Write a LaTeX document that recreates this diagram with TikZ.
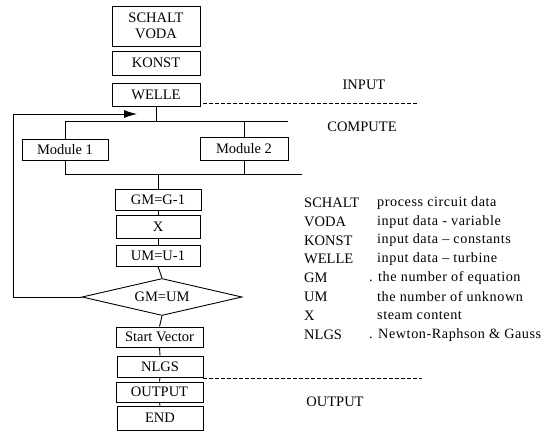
\documentclass[tikz,border=0pt]{standalone}
\usepackage{fontspec}
\setmainfont{Liberation Serif}
\usetikzlibrary{shapes.geometric,arrows.meta}
\begin{document}
\begin{tikzpicture}[x=1pt,y=-1pt,
  every node/.style={font=\fontsize{14.5}{16.5}\selectfont},
  box/.style={draw, line width=0.9pt, minimum width=87pt, minimum height=21pt, inner sep=0pt, align=center},
  dia/.style={draw, line width=0.9pt, diamond, aspect=4.3, minimum width=160pt, minimum height=37pt, inner sep=0pt},
  ln/.style={line width=0.9pt},
  sep/.style={line width=0.8pt, dash pattern=on 4pt off 2pt},
  lkey/.style={anchor=west, inner sep=0pt},
  ldesc/.style={anchor=west, inner sep=0pt, font=\fontsize{14.2}{16}\selectfont\addfontfeatures{LetterSpace=4}},
  lab/.style={inner sep=0pt}
]
\useasboundingbox (0,0) rectangle (550,432);

% input boxes
\node[box, minimum width=88pt, minimum height=40pt] (schalt) at (156,26) {SCHALT\\VODA};
\node[box, minimum width=88pt, minimum height=24pt] (konst) at (156,63) {KONST};
\node[box, minimum width=88pt, minimum height=23pt] (welle) at (156,94.5) {WELLE};

% modules
\node[box, minimum width=86pt] (m1) at (65,149.5) {Module 1};
\node[box, minimum width=88pt, minimum height=23pt] (m2) at (244,148.5) {Module 2};

% compute chain
\node[box, minimum width=86pt] (gm) at (158,199.5) {GM=G-1};
\node[box, minimum width=84pt, minimum height=23pt] (xb) at (158,226.5) {X};
\node[box, minimum width=84pt] (um) at (158,255.5) {UM=U-1};
\node[dia] (cmp) at (162,297) {GM=UM};
\node[box, minimum width=87pt, minimum height=20pt] (sv) at (159.5,337) {Start Vector};
\node[box, minimum width=86pt] (nlgs) at (160,366.5) {NLGS};
\node[box, minimum width=87pt, minimum height=20pt] (out) at (159.5,392) {OUTPUT};
\node[box, minimum width=86pt, minimum height=24pt] (endb) at (160,418) {END};

% split / join
\coordinate (splitT) at (156,121);
\coordinate (topR) at (288,121);
\coordinate (joinB) at (158,174);
\coordinate (botR) at (302,174);
\draw[ln] (welle.south) -- (splitT);
\draw[ln] (m1.north) |- (topR);
\draw[ln] (m2.north) -- (m2.north |- topR);
\draw[ln] (m1.south) |- (botR);
\draw[ln] (m2.south) -- (m2.south |- botR);
\draw[ln] (joinB) -- (gm.north);

% chain connectors
\draw[ln] (gm.south) -- (xb.north);
\draw[ln] (xb.south) -- (um.north);
\draw[ln] (um.south) -- (cmp.north);
\draw[ln] (cmp.south) -- (sv.north);
\draw[ln] (sv.south) -- (nlgs.north);
\draw[ln] (nlgs.south) -- (out.north);
\draw[ln] (out.south) -- (endb.north);

% feedback loop
\coordinate (fbB) at (13,297);
\coordinate (fbT) at (13,114);
\coordinate (fbTip) at (137,114);
\draw[ln] (cmp.west) -- (fbB) -- (fbT);
\draw[ln, -{Latex[length=13pt,width=8pt]}] (fbT) -- (fbTip);

% separators
\coordinate (s1a) at (203,103);
\coordinate (s1b) at (418,103);
\coordinate (s2a) at (203,378.5);
\coordinate (s2b) at (422,378.5);
\draw[sep] (s1a) -- (s1b);
\draw[sep] (s2a) -- (s2b);

% section labels
\node[lab] (linput) at (364,85) {INPUT};
\node[lab] (lcompute) at (362,127) {COMPUTE};
\node[lab] (loutput) at (335,402) {OUTPUT};

% legend
\node[lkey] (k1) at (304,203) {SCHALT};
\node[lkey] (k2) at (304,222) {VODA};
\node[lkey] (k3) at (304,240.5) {KONST};
\node[lkey] (k4) at (304,259) {WELLE};
\node[lkey] (k5) at (304,278) {GM};
\node[lkey] (k6) at (304,297) {UM};
\node[lkey] (k7) at (304,316) {X};
\node[lkey] (k8) at (304,335) {NLGS};
\node[ldesc] (d1) at (377,203) {process circuit data};
\node[ldesc] (d2) at (377,222) {input data - variable};
\node[ldesc] (d3) at (377,240.5) {input data – constants};
\node[ldesc] (d4) at (377,259) {input data – turbine};
\node[ldesc] (d5) at (369,278) {. the number of equation};
\node[ldesc] (d6) at (377,297) {the number of unknown};
\node[ldesc] (d7) at (377,316) {steam content};
\node[ldesc] (d8) at (369,335) {. Newton-Raphson \& Gauss};
\end{tikzpicture}
\end{document}
